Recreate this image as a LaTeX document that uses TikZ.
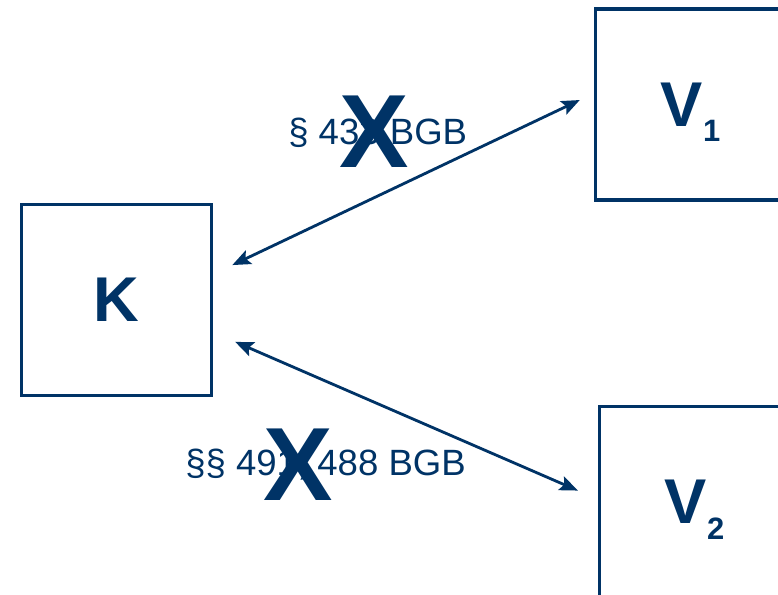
\documentclass[tikz,border=0pt]{standalone}
\usepackage{fontspec}
\setmainfont{Liberation Sans}
\usetikzlibrary{arrows.meta}
\definecolor{bleunuit}{RGB}{0,51,102}

\begin{document}
\begin{tikzpicture}[x=0.025cm,y=-0.025cm,
  partie/.style={draw=bleunuit, line width=2.6pt, inner sep=0pt,
    minimum width=135pt, minimum height=136pt,
    text=bleunuit, font=\fontsize{45}{54}\selectfont\bfseries},%les trois parties
  fleche/.style={draw=bleunuit, line width=2pt,
    {Stealth[length=13pt,width=10.5pt,inset=2.5pt]}-{Stealth[length=13pt,width=10.5pt,inset=2.5pt]}},
  norme/.style={text=bleunuit, inner sep=0pt, font=\fontsize{26}{30}\selectfont},
  croix/.style={text=bleunuit, inner sep=0pt, font=\fontsize{74}{80}\selectfont\bfseries}]%la grande croix
  \clip (0,0) rectangle (778,594);

  \node[partie] (K) at (116.5,300) {K};
  \node[partie] (V1) at (690.5,104.5) {V\raisebox{-11pt}[0pt][0pt]{\fontsize{22}{26}\selectfont 1}};
  \node[partie] (V2) at (694.5,502) {V\raisebox{-11pt}[0pt][0pt]{\fontsize{22}{26}\selectfont 2}};

  \draw[fleche, shorten <=15pt, shorten >=11pt] ([yshift=18.4pt]K.east) -- ([yshift=7.9pt]V1.west);
  \draw[fleche, shorten <=17pt, shorten >=15.4pt] ([yshift=-23pt]K.east) -- ([yshift=2pt]V2.west);

  \node[norme, anchor=base west] (n1) at (288,144) {§ 433 BGB};
  \node[croix] (x1) at (374,131.5) {X};

  \node[norme, anchor=base west] (n2) at (185,475.7) {§§ 491, 488 BGB};
  \node[croix] (x2) at (298,465) {X};
\end{tikzpicture}
\end{document}
